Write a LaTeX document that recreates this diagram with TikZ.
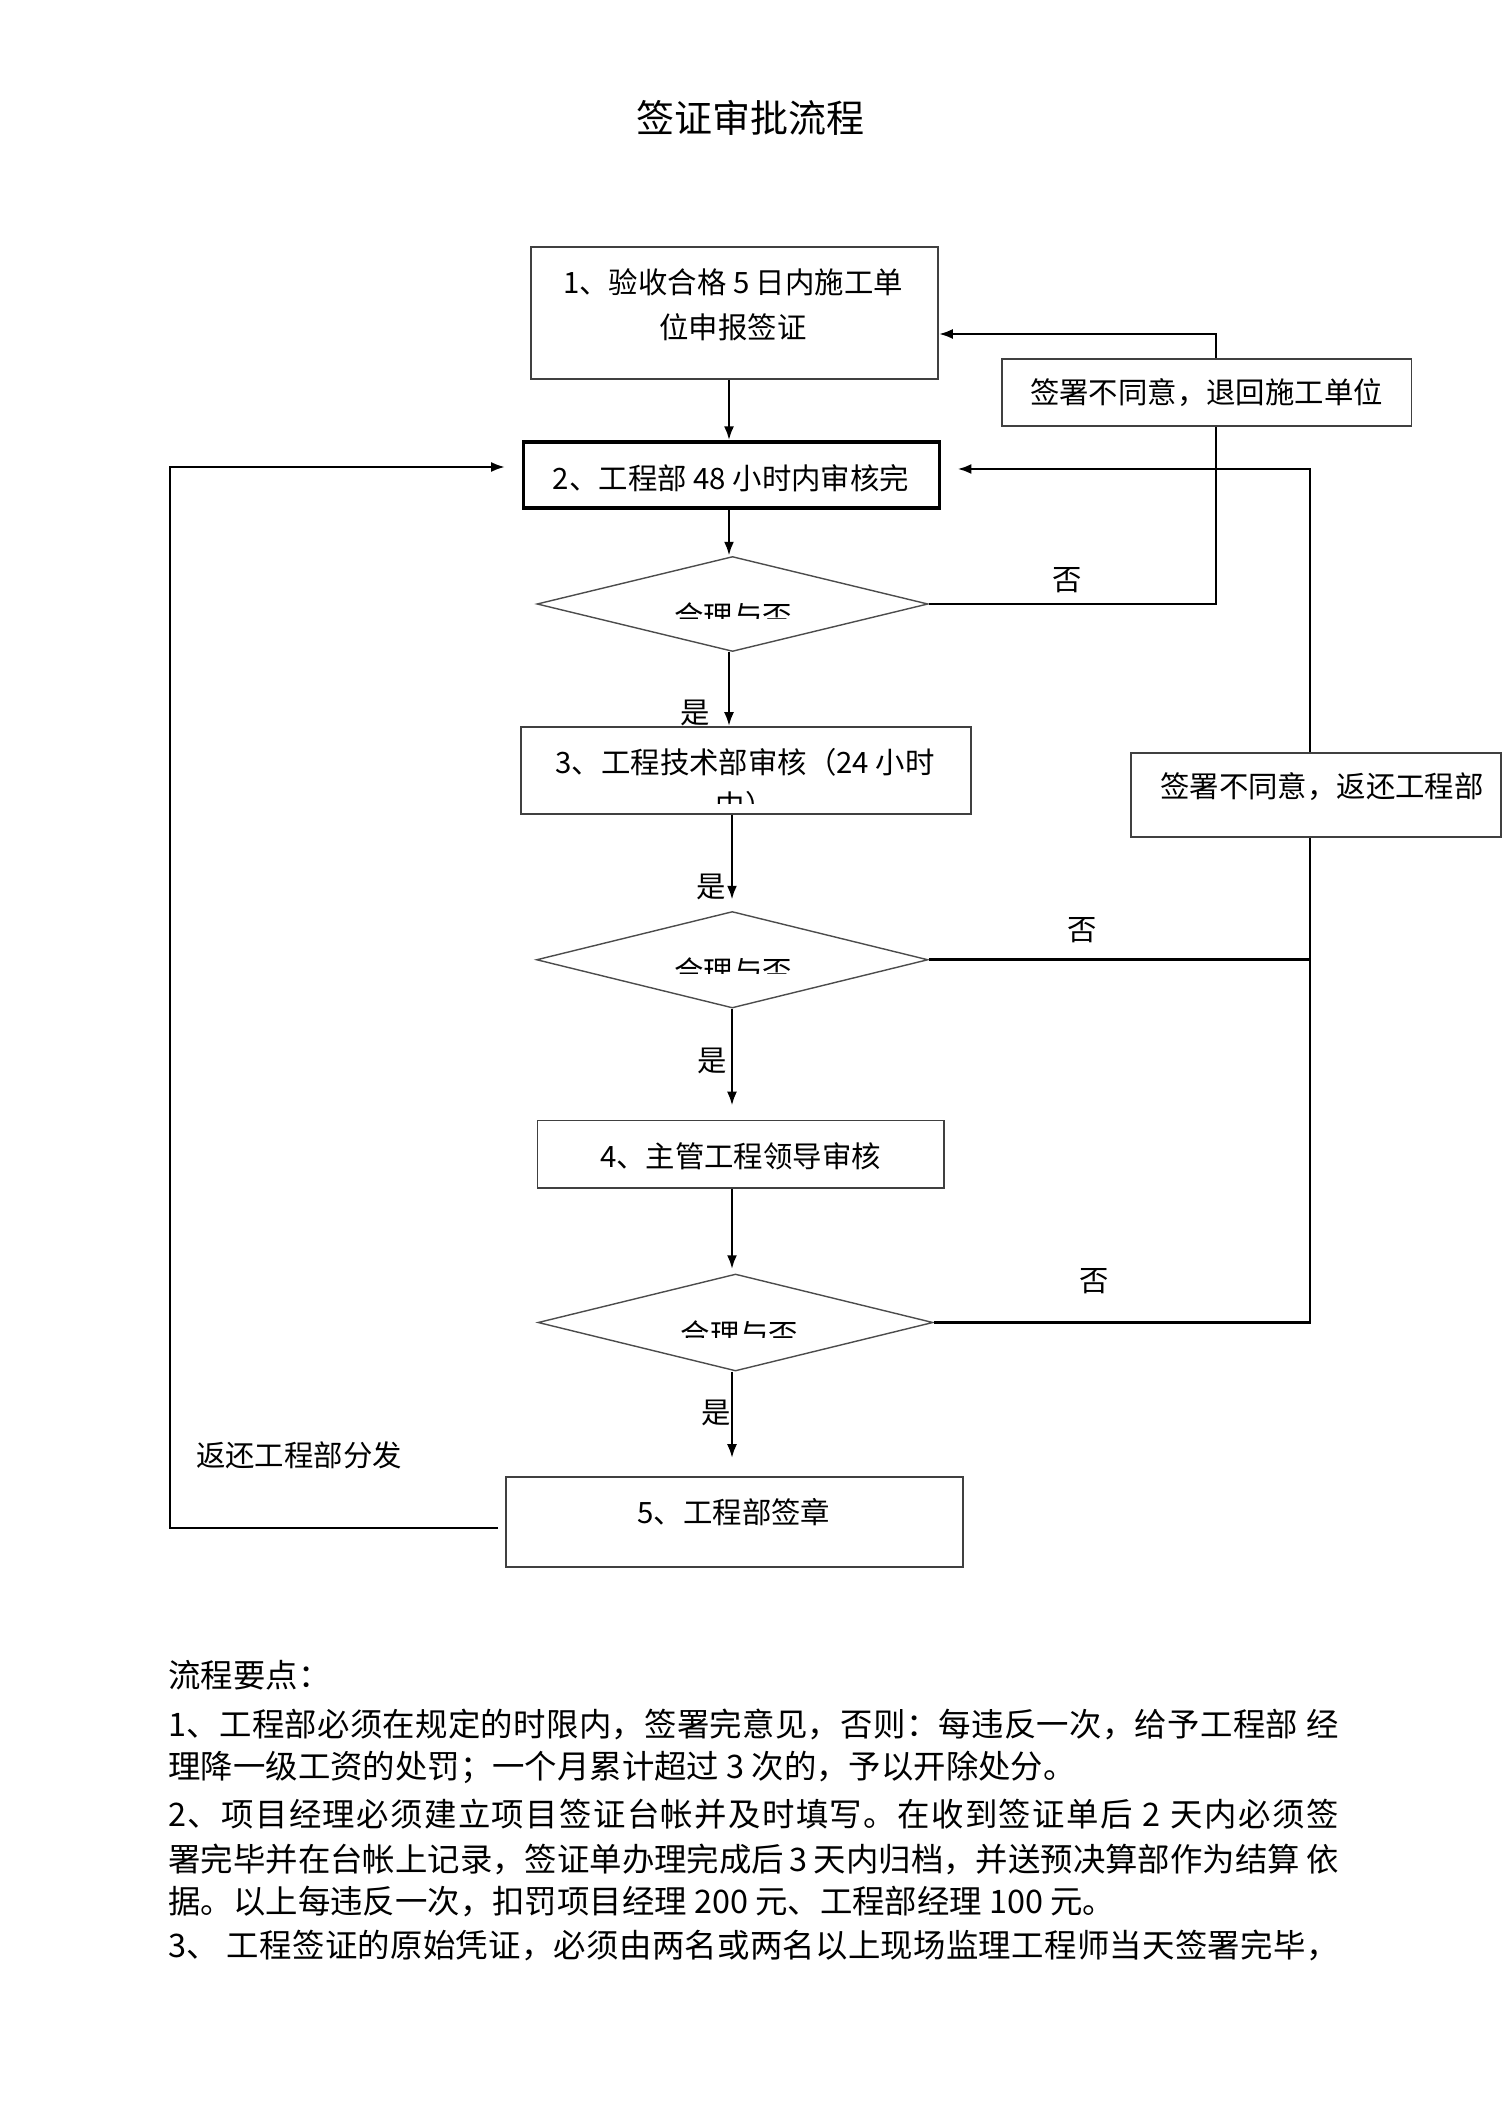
\documentclass[tikz,border=0pt]{standalone}
\usepackage{fontspec}
\setmainfont{Noto Sans CJK SC}
\usetikzlibrary{shapes.geometric,arrows.meta}
\def\spreadA#1#2{#1\ifx#2\relax\else\hfil\expandafter\spreadA\expandafter#2\fi}
\newcommand\fullline[1]{\hbox to 585pt{\spreadA#1\relax}}
\begin{document}
\begin{tikzpicture}[x=0.5pt,y=-0.5pt,
  box/.style={draw=black!75, line width=0.8pt, fill=white, inner sep=0pt},
  thickbox/.style={box, draw=black, line width=1.6pt},
  dia/.style={diamond, draw=black!70, line width=0.7pt, inner sep=0pt, fill=white},
  txt/.style={font=\fontsize{14.7pt}{20pt}\selectfont, inner sep=0pt},
  lbl/.style={txt},
  body/.style={font=\fontsize{16.2pt}{22pt}\selectfont, inner sep=0pt, anchor=west},
  conn/.style={line width=1.35pt},
  arr/.style={conn, -{Latex[length=7pt,width=5pt]}}]
\useasboundingbox[fill=white] (0,0) rectangle (1501,2112);

% title
\node[font=\fontsize{19pt}{24pt}\selectfont, inner sep=0pt] (title) at (750,118) {签证审批流程};

% main column boxes
\node[box, minimum width=203.5pt, minimum height=66pt] (b1) at (734.5,313) {};
\node[txt] (b1t1) at (733,282) {1、验收合格 5 日内施工单};
\node[txt] (b1t2) at (733,327) {位申报签证};

\node[thickbox, minimum width=208pt, minimum height=33pt] (b2) at (731.75,475) {};
\node[txt] (b2t) at (731,478) {2、工程部 48 小时内审核完};

\node[dia, minimum width=195.5pt, minimum height=47.5pt] (d1) at (732.5,604) {};
\begin{scope}
  \clip (600,590) rectangle (870,618);
  \node[txt] (d1t) at (733,616) {合理与否};
\end{scope}

\node[box, minimum width=225pt, minimum height=43.5pt] (b3) at (746,770.5) {};
\node[txt] (b3t1) at (745,762) {3、工程技术部审核（24 小时};
\begin{scope}
  \clip (680,785) rectangle (810,803);
  \node[txt] (b3t2) at (745,805) {中）};
\end{scope}

\node[dia, minimum width=195.75pt, minimum height=48.25pt] (d2) at (732.25,959.75) {};
\begin{scope}
  \clip (600,945) rectangle (870,973);
  \node[txt] (d2t) at (733,971) {合理与否};
\end{scope}

\node[box, minimum width=203.25pt, minimum height=33.75pt] (b4) at (740.75,1154.25) {};
\node[txt] (b4t) at (740.5,1156) {4、主管工程领导审核};

\node[dia, minimum width=197.5pt, minimum height=48.5pt] (d3) at (735.5,1322.5) {};
\begin{scope}
  \clip (600,1308) rectangle (880,1337);
  \node[txt] (d3t) at (739.5,1334.5) {合理与否};
\end{scope}

\node[box, minimum width=228.5pt, minimum height=45pt] (b5) at (734.5,1522) {};
\node[txt] (b5t) at (734,1512) {5、工程部签章};

% vertical flow arrows
\coordinate (cx) at (729,0);
\coordinate (cy) at (732,0);
\draw[arr] (b1.south -| cx) -- (b2.north -| cx);
\draw[arr] (b2.south -| cx) -- (d1.north -| cx);
\draw[arr] (d1.south -| cx) -- (b3.north -| cx);
\draw[arr, shorten >=5.5pt] (b3.south -| cy) -- (d2.north -| cy);
\draw[arr, shorten >=7pt] (d2.south -| cy) -- (b4.north -| cy);
\draw[arr, shorten >=2pt] (b4.south -| cy) -- (d3.north -| cy);
\draw[arr, shorten >=9pt] (d3.south -| cy) -- (b5.north -| cy);

% right loops
\coordinate (r1) at (1216,334);
\draw[arr] (d1.east) -| (r1) -- (r1 -| b1.east);
\coordinate (r2) at (1310,469);
\draw[conn] (d2.east) -- (d2.east -| r2);
\draw[arr, shorten >=8pt] (d3.east) -| (r2) -- (r2 -| b2.east);

% left loop
\coordinate (l1) at (170,1528);
\coordinate (l2) at (170,467);
\draw[arr, shorten <=3.5pt, shorten >=8.5pt] (b5.west |- l1) -- (l1) -- (l2) -- (l2 -| b2.west);

% side boxes (on top of the loop lines)
\node[box, minimum width=204.75pt, minimum height=33.5pt] (bA) at (1206.75,392.5) {};
\node[txt] (bAt) at (1206.5,393) {签署不同意，退回施工单位};
\node[box, minimum width=185pt, minimum height=42pt] (bB) at (1316,795) {};
\node[txt] (bBt) at (1322,787) {签署不同意，返还工程部};

% labels
\node[lbl] (n1) at (1067,580) {否};
\node[lbl] (n2) at (1082,930) {否};
\node[lbl] (n3) at (1094.5,1281) {否};
\node[lbl] (y1) at (695.5,713) {是};
\node[lbl] (y2) at (711.5,887) {是};
\node[lbl] (y3) at (712,1060.5) {是};
\node[lbl] (y4) at (716.5,1413) {是};
\node[lbl] (ret) at (299,1455.5) {返还工程部分发};

% notes
\node[body] (p0) at (168,1675) {流程要点：};
\node[body] (p1) at (168,1724) {\fullline{1、工程部必须在规定的时限内，签署完意见，否则：每违反一次，给予工程部\ 经}};
\node[body] (p2) at (168,1767.5) {理降一级工资的处罚；一个月累计超过 3 次的，予以开除处分。};
\node[body] (p3) at (168,1814) {\fullline{2、项目经理必须建立项目签证台帐并及时填写。在收到签证单后\ 2\ 天内必须签}};
\node[body] (p4) at (168,1859) {\fullline{署完毕并在台帐上记录，签证单办理完成后\ 3\ 天内归档，并送预决算部作为结算\ 依}};
\node[body] (p5) at (168,1902) {据。以上每违反一次，扣罚项目经理 200 元、工程部经理 100 元。};
\node[body] (p6) at (168,1945) {\fullline{3、\ 工程签证的原始凭证，必须由两名或两名以上现场监理工程师当天签署完毕，}};
\end{tikzpicture}
\end{document}
